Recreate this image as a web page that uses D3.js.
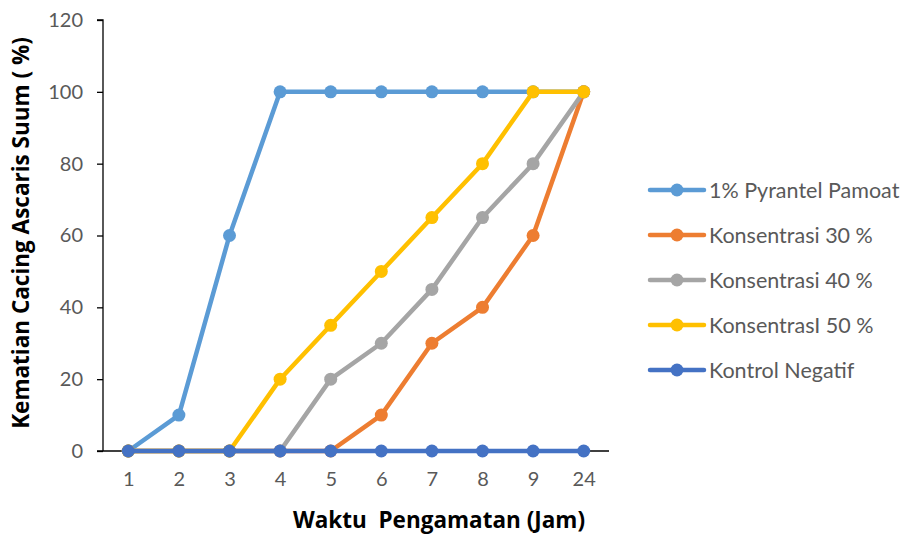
<!DOCTYPE html>
<html><head><meta charset="utf-8">
<script src="https://cdn.jsdelivr.net/npm/d3@7"></script>
<style>body{margin:0;background:#fff}svg{display:block}</style>
</head><body>
<svg id="c" width="906" height="534"></svg>
<script>
const categories = ["1","2","3","4","5","6","7","8","9","24"];
const seriesNames = ["1% Pyrantel Pamoat","Konsentrasi 30 %","Konsentrasi 40 %","KonsentrasI 50 %","Kontrol Negatif"];
const pyrantel = [0,10,60,100,100,100,100,100,100,100];
const konsentrasi30 = [0,0,0,0,0,10,30,40,60,100];
const konsentrasi40 = [0,0,0,0,20,30,45,65,80,100];
const konsentrasi50 = [0,0,0,20,35,50,65,80,100,100];
const kontrol = [0,0,0,0,0,0,0,0,0,0];
const colors = ["#5B9BD5","#ED7D31","#A5A5A5","#FFC000","#4472C4"];
const yTicks = [0,20,40,60,80,100,120];

const series = [pyrantel, konsentrasi30, konsentrasi40, konsentrasi50, kontrol].map((v,i)=>({name:seriesNames[i], values:v, color:colors[i]}));

const svg = d3.select("#c");
const font = "Lato, 'Open Sans', sans-serif";
const titleFont = "'Open Sans', Lato, sans-serif";
const pL = 103, pR = 609, pT = 20, pB = 451;
const x = d3.scalePoint().domain(categories).range([pL, pR]).padding(0.5);
const y = d3.scaleLinear().domain([0,120]).range([pB, pT]);

// y axis
const ya = svg.append("g").attr("transform",`translate(${pL},0)`)
  .call(d3.axisLeft(y).tickValues(yTicks).tickSize(6).tickPadding(14));
ya.select(".domain").attr("stroke","#000").attr("stroke-width",1.3).attr("d",`M-6,${pT}H0V${pB}`);
ya.selectAll(".tick line").attr("stroke","#000").attr("stroke-width",1.3);
ya.selectAll(".tick text").attr("fill","#595959").style("font-family",font).style("font-size","20px");

// x axis
const xa = svg.append("g").attr("transform",`translate(0,${pB})`)
  .call(d3.axisBottom(x).tickSize(0).tickPadding(21));
xa.select(".domain").attr("stroke","#000").attr("stroke-width",1.3).attr("d",`M${pL-6},0H${pR}`);
xa.selectAll(".tick text").attr("fill","#595959").style("font-family",font).style("font-size","20px");

// lines
const line = d3.line().x((d,i)=>x(categories[i])).y(d=>y(d));
series.forEach(s=>{
  const g = svg.append("g");
  g.append("path").attr("d",line(s.values)).attr("fill","none").attr("stroke",s.color).attr("stroke-width",4.5).attr("stroke-linejoin","round");
  g.selectAll("circle").data(s.values).join("circle")
    .attr("cx",(d,i)=>x(categories[i])).attr("cy",d=>y(d)).attr("r",6.5).attr("fill",s.color);
});

// legend
const lg = svg.append("g");
series.forEach((s,i)=>{
  const ly = 190 + i*45;
  lg.append("line").attr("x1",650).attr("x2",704).attr("y1",ly).attr("y2",ly).attr("stroke",s.color).attr("stroke-width",4.5).attr("stroke-linecap","round");
  lg.append("circle").attr("cx",677).attr("cy",ly).attr("r",6.5).attr("fill",s.color);
  lg.append("text").attr("x",709).attr("y",ly).attr("dy","0.36em").text(s.name)
    .attr("fill","#595959").style("font-family",font).style("font-size","21.5px");
});

// axis titles
svg.append("text").attr("transform","translate(29,233) rotate(-90)").attr("text-anchor","middle")
  .text("Kematian Cacing Ascaris Suum ( %)").style("font-family",titleFont).style("font-size","22.5px").style("font-weight","bold").attr("fill","#000");
svg.append("text").attr("x",439).attr("y",528).attr("text-anchor","middle")
  .text("Waktu  Pengamatan (Jam)").style("font-family",titleFont).style("font-size","22.5px").style("font-weight","bold").attr("fill","#000").style("white-space","pre");
</script>
</body></html>
